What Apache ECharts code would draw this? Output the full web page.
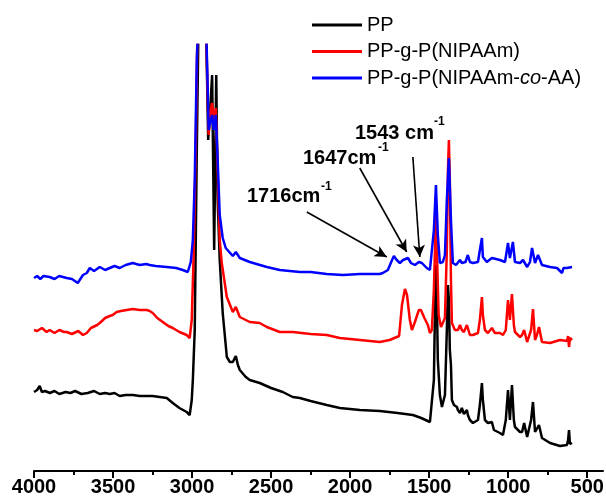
<!DOCTYPE html>
<html>
<head>
<meta charset="utf-8">
<script src="https://cdn.jsdelivr.net/npm/echarts@6/dist/echarts.min.js"></script>
<style>
html,body{margin:0;padding:0;background:#fff;}
#chart{width:606px;height:504px;}
</style>
</head>
<body>
<div id="chart"></div>
<script>
// ---- Data (wavenumber in cm-1, intensity in arbitrary offset units) ----
const seriesNames = ['PP', 'PP-g-P(NIPAAm)', 'PP-g-P(NIPAAm-co-AA)'];

const wnPP = [4000,3980,3964,3950,3930,3900,3870,3840,3800,3770,3740,3700,3660,3620,3584,3550,3521,3490,3458,3420,3375,3330,3290,3250,3205,3160,3122,3080,3034,3015,3002,2995,2983,2970,2958,2945,2926,2913,2898,2882,2873,2860,2847,2838,2825,2806,2780,2761,2742,2723,2710,2698,2660,2635,2572,2500,2426,2363,2318,2250,2148,2065,1938,1812,1700,1603,1550,1495,1483,1470,1464,1457,1451,1445,1432,1419,1413,1400,1388,1381,1375,1369,1362,1356,1343,1337,1324,1318,1305,1293,1280,1261,1255,1242,1223,1191,1179,1166,1160,1147,1128,1103,1090,1052,1033,1015,1001,989,976,964,957,925,912,899,880,874,855,843,830,824,805,786,735,672,628,621,615,609,596];
const absPP = [79,81,85,79,80,78,80,77,79,78,80,77,78,80,77,78,77,78,75,76,76,75,75,75,74,73,68,63,59,56,71,91,141,321,461,461,461,461,331,371,396,221,396,271,211,158,114,109,109,115,106,101,94,91,88,83,79,74,73,70,66,63,61,60,58,56,53,49,48,91,151,206,171,111,76,64,66,76,141,186,171,121,106,71,66,64,64,61,58,63,57,61,56,51,48,51,66,88,71,51,48,49,41,38,36,51,81,51,86,51,44,39,39,48,34,36,51,69,39,39,46,33,28,25,26,31,41,27,28];

const wnNIPAAm = [4000,3980,3950,3920,3901,3870,3840,3810,3793,3760,3720,3690,3666,3640,3600,3584,3550,3521,3502,3477,3450,3413,3375,3331,3287,3268,3249,3220,3185,3150,3122,3080,3034,3015,3002,2989,2977,2964,2945,2926,2913,2904,2895,2882,2873,2863,2850,2838,2825,2812,2780,2742,2723,2698,2635,2572,2527,2445,2363,2250,2148,2065,1938,1812,1750,1705,1690,1672,1653,1640,1622,1609,1590,1565,1552,1530,1508,1495,1483,1470,1457,1451,1440,1425,1413,1400,1388,1381,1375,1369,1362,1356,1337,1318,1305,1293,1280,1261,1242,1223,1191,1179,1166,1160,1147,1128,1103,1084,1052,1033,1015,1001,989,976,964,957,925,912,899,880,874,855,843,830,818,805,786,735,672,628,621,615,609,596];
const absNIPAAm = [141,140,143,139,141,138,141,139,139,137,140,136,138,143,146,148,153,155,156,159,160,161,162,161,161,160,158,153,149,145,143,139,136,133,151,221,321,461,461,461,461,391,336,361,368,346,363,301,231,208,174,159,164,154,149,148,144,139,139,137,136,133,131,129,131,134,135,166,182,176,151,141,149,161,161,153,146,138,141,181,256,221,156,144,144,153,221,301,331,291,191,148,141,141,146,141,139,146,136,136,138,151,174,156,141,138,143,138,138,136,141,171,151,177,146,139,134,136,141,129,131,141,162,131,136,144,129,128,131,130,135,124,133,131];

const wnCoAA = [4000,3980,3960,3940,3901,3870,3840,3793,3760,3723,3711,3690,3666,3647,3620,3584,3550,3521,3490,3458,3420,3375,3331,3290,3268,3230,3160,3100,3059,3027,3008,2995,2983,2970,2958,2932,2913,2904,2895,2882,2873,2863,2850,2838,2825,2806,2787,2742,2723,2698,2635,2527,2445,2318,2250,2148,2046,1938,1812,1793,1761,1740,1723,1705,1685,1665,1634,1615,1590,1565,1546,1515,1495,1483,1470,1457,1445,1432,1413,1400,1388,1375,1362,1350,1330,1318,1305,1293,1270,1255,1242,1223,1191,1179,1166,1160,1135,1103,1052,1020,1001,989,970,957,925,906,880,862,849,843,830,811,786,735,691,659,650,628,596];
const absCoAA = [193,195,192,195,194,192,195,193,192,188,191,196,198,203,200,204,201,203,205,203,206,208,206,207,206,205,204,203,201,199,209,231,291,411,461,461,461,401,341,351,356,341,356,311,256,233,223,215,219,213,209,204,201,199,199,197,196,197,197,198,201,209,215,211,208,211,213,208,206,209,208,203,201,203,241,286,236,208,209,216,271,313,251,208,206,208,211,208,209,216,209,208,209,221,233,214,209,213,211,209,228,213,229,209,208,211,204,209,223,221,208,216,206,204,203,198,203,203,204];

const majorTicks = [4000,3500,3000,2500,2000,1500,1000,500];
const minorTicks = [3750,3250,2750,2250,1750,1250,750];

// Annotations: label text, arrow start and end in data units [wavenumber, intensity]
const annoLabels = ['1716cm', '1647cm', '1543 cm'];
const annoArrowStart = [[2274, 259], [1939, 303], [1603, 314]];
const annoArrowEnd = [[1768, 214], [1642, 219], [1559, 214]];

// ---- Build ----
function zip(xs, ys) { return xs.map((x, i) => [x, ys[i]]); }
const colors = ['#000000', '#ff0000', '#0000ff'];
const FONT = 'Liberation Sans, Arial, sans-serif';

const chart = echarts.init(document.getElementById('chart'), null, {renderer: 'canvas'});

const arrowData = annoArrowStart.map((s, i) => [
  {coord: s}, {coord: annoArrowEnd[i]}
]);

const option = {
  animation: false,
  backgroundColor: '#ffffff',
  grid: {left: 34, right: 3, top: 45, bottom: 33, containLabel: false, outerBoundsMode: 'none'},
  legend: {
    orient: 'vertical',
    left: 312,
    top: 15,
    padding: 0,
    itemWidth: 50,
    itemHeight: 14,
    itemGap: 6.5,
    data: seriesNames,
    icon: 'path://M0,6 L50,6 L50,9 L0,9 Z',
    textStyle: {
      fontSize: 20, fontFamily: FONT, color: '#000',
      rich: {i: {fontStyle: 'italic', fontSize: 20, fontFamily: FONT, color: '#000'}}
    },
    formatter: function (name) {
      return name === 'PP-g-P(NIPAAm-co-AA)' ? 'PP-g-P(NIPAAm-{i|co}-AA)' : name;
    }
  },
  xAxis: [{
    type: 'value', inverse: true, min: 400, max: 4000,
    position: 'bottom',
    axisLine: {show: true, onZero: false, lineStyle: {color: '#000', width: 2}},
    axisTick: {show: true, length: 7, lineStyle: {color: '#000', width: 2}, customValues: majorTicks},
    axisLabel: {show: true, customValues: majorTicks, fontSize: 20, fontWeight: 'bold', fontFamily: FONT, color: '#000', margin: 6,
      formatter: v => String(v)},
    splitLine: {show: false}
  }, {
    type: 'value', inverse: true, min: 400, max: 4000,
    position: 'bottom',
    axisLine: {show: false, onZero: false},
    axisTick: {show: true, length: 4, lineStyle: {color: '#000', width: 2}, customValues: minorTicks},
    axisLabel: {show: false},
    splitLine: {show: false}
  }],
  yAxis: {
    type: 'value', min: 0, max: 426, show: false
  },
  series: [
    {
      name: seriesNames[0], type: 'line', data: zip(wnPP, absPP), showSymbol: false, symbol: 'none',
      lineStyle: {color: colors[0], width: 2.5}, itemStyle: {color: colors[0]}, clip: true, z: 2,
      markLine: {
        silent: true, symbol: ['none', 'arrow'], symbolSize: [9, 12],
        lineStyle: {color: '#000', width: 1.6, type: 'solid'},
        label: {show: false}, emphasis: {disabled: true},
        data: arrowData
      }
    },
    {
      name: seriesNames[1], type: 'line', data: zip(wnNIPAAm, absNIPAAm), showSymbol: false, symbol: 'none',
      lineStyle: {color: colors[1], width: 2.5}, itemStyle: {color: colors[1]}, clip: true, z: 3
    },
    {
      name: seriesNames[2], type: 'line', data: zip(wnCoAA, absCoAA), showSymbol: false, symbol: 'none',
      lineStyle: {color: colors[2], width: 2.5}, itemStyle: {color: colors[2]}, clip: true, z: 4
    }
  ],
  graphic: [
    {type: 'text', left: 247, top: 186, style: {text: annoLabels[0], font: 'bold 20px ' + FONT, fill: '#000'}},
    {type: 'text', left: 321, top: 181, style: {text: '-1', font: 'bold 12px ' + FONT, fill: '#000'}},
    {type: 'text', left: 303, top: 148, style: {text: annoLabels[1], font: 'bold 20px ' + FONT, fill: '#000'}},
    {type: 'text', left: 378, top: 142, style: {text: '-1', font: 'bold 12px ' + FONT, fill: '#000'}},
    {type: 'text', left: 355, top: 123, style: {text: annoLabels[2], font: 'bold 20px ' + FONT, fill: '#000'}},
    {type: 'text', left: 434, top: 116, style: {text: '-1', font: 'bold 12px ' + FONT, fill: '#000'}}
  ]
};
chart.setOption(option);
</script>
</body>
</html>
